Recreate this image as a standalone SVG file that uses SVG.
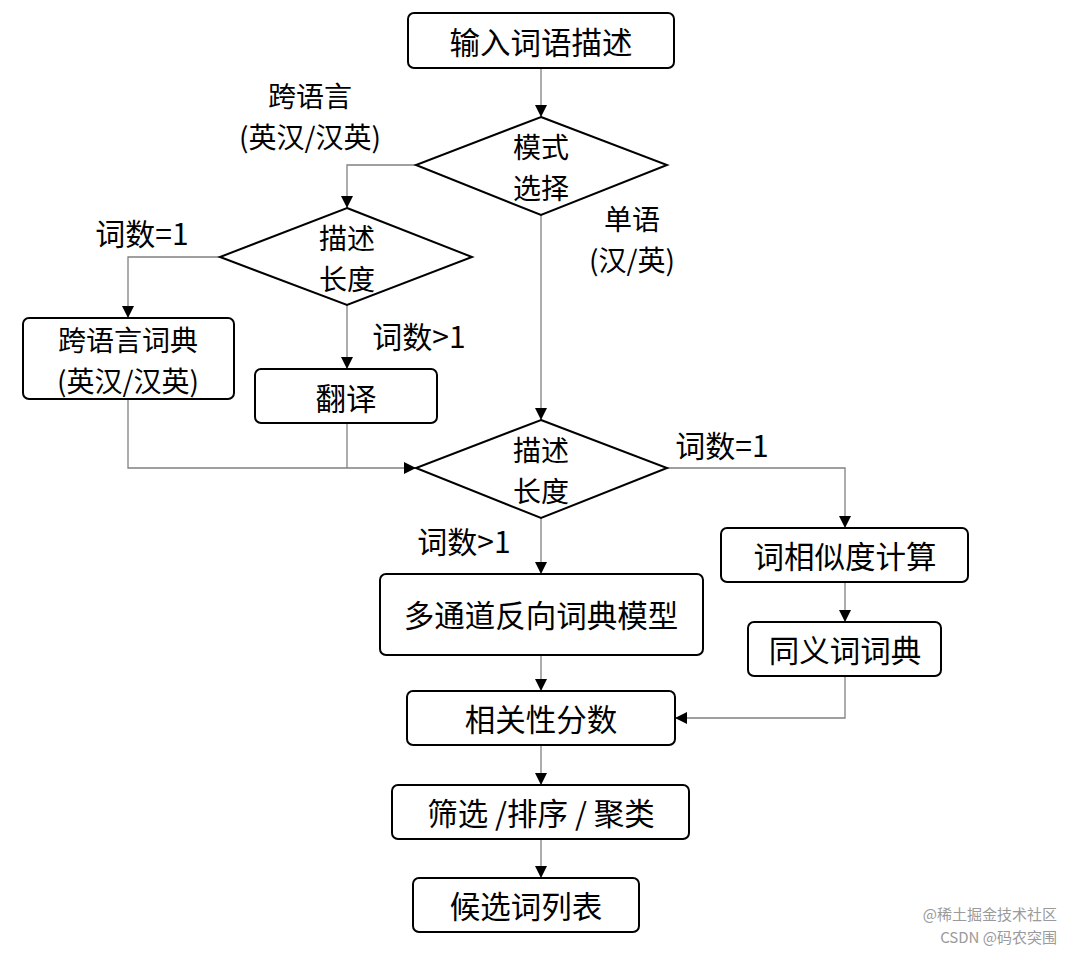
<svg xmlns="http://www.w3.org/2000/svg" width="1080" height="953" viewBox="0 0 1080 953">
<defs>
<marker id="arr" viewBox="0 0 12 12" refX="12" refY="6" markerWidth="12" markerHeight="12" markerUnits="userSpaceOnUse" orient="auto">
<path d="M0,0 L12,6 L0,12 Z" fill="#000"/>
</marker>
</defs>
<style>
.box{fill:#fff;stroke:#000;stroke-width:2}
.dia{fill:#fff;stroke:#000;stroke-width:2}
.t{font-family:"Noto Sans CJK SC","Noto Sans",sans-serif;font-size:30.5px;fill:#000;text-anchor:middle;dominant-baseline:central}
.t2{font-family:"Noto Sans CJK SC","Noto Sans",sans-serif;font-size:28px;fill:#000;text-anchor:middle;dominant-baseline:central}
.lbl{font-family:"Noto Sans CJK SC","Noto Sans",sans-serif;font-size:30px;fill:#000;text-anchor:middle;dominant-baseline:central}
.c{fill:none;stroke:#808080;stroke-width:1.3}
.wm{font-family:"Noto Sans CJK SC","Noto Sans",sans-serif;font-size:15px;fill:#9a9a9a;text-anchor:end}
</style>
<rect width="1080" height="953" fill="#fff"/>
<g id="connectors">
<path class="c" d="M541,68 V117" marker-end="url(#arr)"/>
<path class="c" d="M416,165 H347 V208" marker-end="url(#arr)"/>
<path class="c" d="M220,257 H128 V318" marker-end="url(#arr)"/>
<path class="c" d="M347,305 V369" marker-end="url(#arr)"/>
<path class="c" d="M541,215 V420" marker-end="url(#arr)"/>
<path class="c" d="M128,399 V468 H416" marker-end="url(#arr)"/>
<path class="c" d="M347,423 V468"/>
<path class="c" d="M667,468 H845 V528" marker-end="url(#arr)"/>
<path class="c" d="M845,582 V622" marker-end="url(#arr)"/>
<path class="c" d="M845,676 V718 H675" marker-end="url(#arr)"/>
<path class="c" d="M541,518 V574" marker-end="url(#arr)"/>
<path class="c" d="M541,655 V691" marker-end="url(#arr)"/>
<path class="c" d="M541,745 V785" marker-end="url(#arr)"/>
<path class="c" d="M541,839 V878" marker-end="url(#arr)"/>
</g>
<g id="labels">
<text class="t2" x="310" y="95">跨语言</text>
<text class="t2" x="310" y="136">(英汉/汉英)</text>
<text class="t2" x="632" y="218">单语</text>
<text class="t2" x="632" y="259">(汉/英)</text>
<text class="lbl" x="142" y="232">词数=1</text>
<text class="lbl" x="419" y="335">词数&gt;1</text>
<text class="lbl" x="722" y="444">词数=1</text>
<text class="lbl" x="464" y="540">词数&gt;1</text>
</g>
<g id="n-input">
<rect class="box" x="408" y="13" width="266" height="55" rx="6"/>
<text class="t" x="541" y="41">输入词语描述</text>
</g>
<g id="n-mode">
<polygon class="dia" points="541,117 667,165 541,215 416,165"/>
<text class="t2" x="541" y="146">模式</text>
<text class="t2" x="541" y="187">选择</text>
</g>
<g id="n-len1">
<polygon class="dia" points="347,208 472,257 347,305 220,257"/>
<text class="t2" x="347" y="237">描述</text>
<text class="t2" x="347" y="278">长度</text>
</g>
<g id="n-crossdict">
<rect class="box" x="23" y="318" width="211" height="81" rx="6"/>
<text class="t2" x="128" y="339">跨语言词典</text>
<text class="t2" x="128" y="380">(英汉/汉英)</text>
</g>
<g id="n-translate">
<rect class="box" x="255" y="369" width="182" height="54" rx="6"/>
<text class="t" x="346" y="397">翻译</text>
</g>
<g id="n-len2">
<polygon class="dia" points="541,420 667,468 541,518 416,468"/>
<text class="t2" x="541" y="449">描述</text>
<text class="t2" x="541" y="490">长度</text>
</g>
<g id="n-sim">
<rect class="box" x="721" y="528" width="247" height="54" rx="6"/>
<text class="t" x="845" y="555">词相似度计算</text>
</g>
<g id="n-syn">
<rect class="box" x="748" y="622" width="193" height="54" rx="6"/>
<text class="t" x="845" y="649">同义词词典</text>
</g>
<g id="n-model">
<rect class="box" x="380" y="574" width="323" height="81" rx="6"/>
<text class="t" x="541" y="614">多通道反向词典模型</text>
</g>
<g id="n-score">
<rect class="box" x="407" y="691" width="268" height="54" rx="6"/>
<text class="t" x="541" y="718">相关性分数</text>
</g>
<g id="n-filter">
<rect class="box" x="392" y="785" width="297" height="54" rx="6"/>
<text class="t" x="541" y="812">筛选 /排序 / 聚类</text>
</g>
<g id="n-list">
<rect class="box" x="413" y="878" width="226" height="54" rx="6"/>
<text class="t" x="526" y="905">候选词列表</text>
</g>
<g id="watermark">
<text class="wm" x="1057" y="920">@稀土掘金技术社区</text>
<text class="wm" x="1057" y="943">CSDN @码农突围</text>
</g>
</svg>
